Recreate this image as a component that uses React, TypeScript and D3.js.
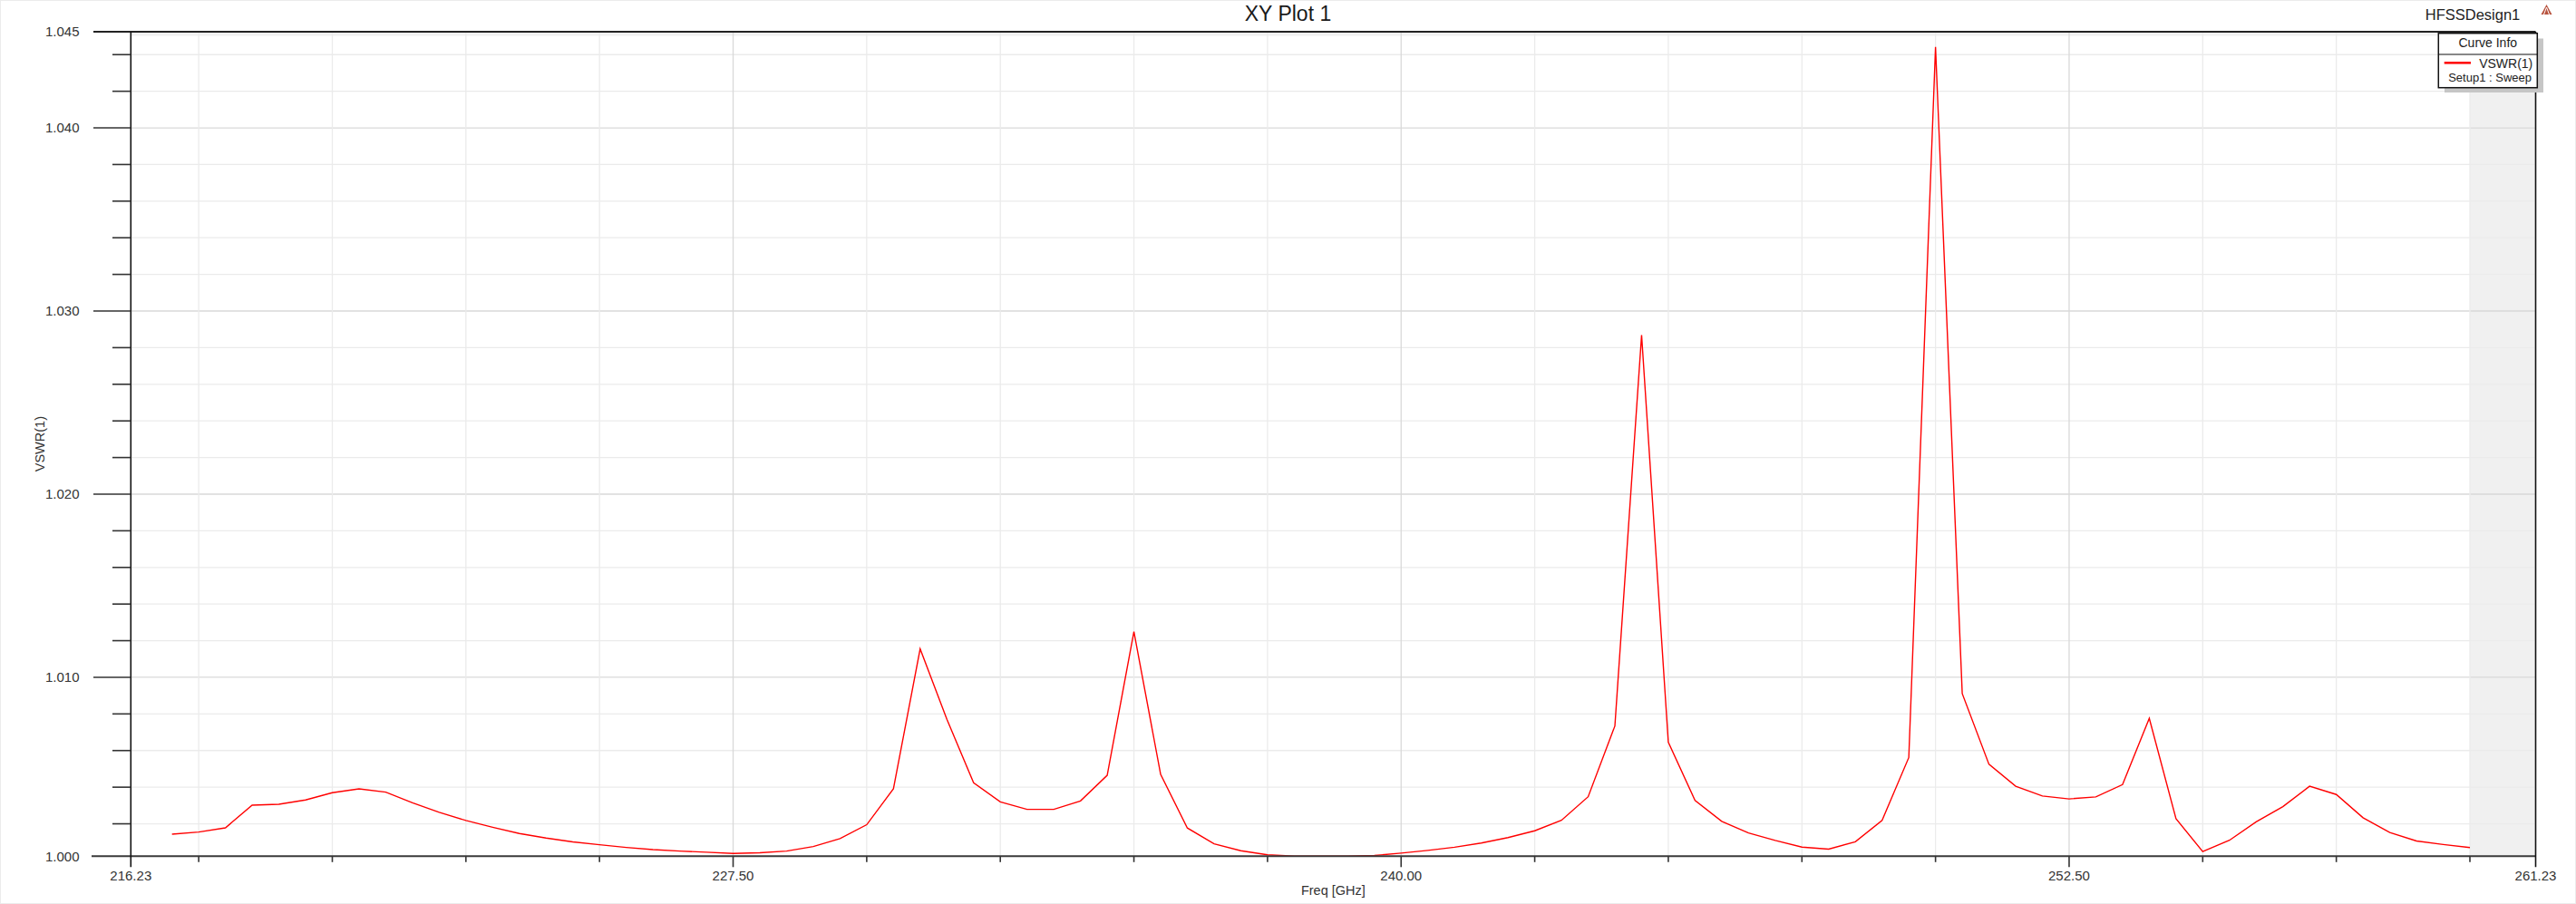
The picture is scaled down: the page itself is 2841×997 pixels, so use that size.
import React from 'react';
import * as d3 from 'd3';

const FREQ_GHZ = [
  217.0, 217.5, 218.0, 218.5, 219.0, 219.5, 220.0, 220.5, 221.0, 221.5,
  222.0, 222.5, 223.0, 223.5, 224.0, 224.5, 225.0, 225.5, 226.0, 226.5,
  227.0, 227.5, 228.0, 228.5, 229.0, 229.5, 230.0, 230.5, 231.0, 231.5,
  232.0, 232.5, 233.0, 233.5, 234.0, 234.5, 235.0, 235.5, 236.0, 236.5,
  237.0, 237.5, 238.0, 238.5, 239.0, 239.5, 240.0, 240.5, 241.0, 241.5,
  242.0, 242.5, 243.0, 243.5, 244.0, 244.5, 245.0, 245.5, 246.0, 246.5,
  247.0, 247.5, 248.0, 248.5, 249.0, 249.5, 250.0, 250.5, 251.0, 251.5,
  252.0, 252.5, 253.0, 253.5, 254.0, 254.5, 255.0, 255.5, 256.0, 256.5,
  257.0, 257.5, 258.0, 258.5, 259.0, 259.5, 260.0,
];

const VSWR_1 = [
  1.00143, 1.00155, 1.00178, 1.00302, 1.00307, 1.0033, 1.0037, 1.00391, 1.00373, 1.00315,
  1.00263, 1.00218, 1.00181, 1.00147, 1.00122, 1.00101, 1.00086, 1.00071, 1.00059, 1.00051,
  1.00045, 1.00038, 1.00042, 1.00051, 1.00076, 1.00119, 1.00195, 1.00391, 1.01155, 1.00771,
  1.00424, 1.0032, 1.00279, 1.00279, 1.00325, 1.00465, 1.01249, 1.0047, 1.00177, 1.00091,
  1.00053, 1.00031, 1.00024, 1.00023, 1.00023, 1.00027, 1.0004, 1.00055, 1.00072, 1.00095,
  1.00125, 1.00162, 1.00219, 1.00348, 1.00734, 1.02869, 1.00646, 1.00327, 1.00213, 1.0015,
  1.00109, 1.00073, 1.00062, 1.00102, 1.00219, 1.00562, 1.04442, 1.00911, 1.00525, 1.00405,
  1.00352, 1.00336, 1.00347, 1.00414, 1.00776, 1.00228, 1.00048, 1.0011, 1.00211, 1.00294,
  1.00405, 1.0036, 1.00233, 1.00153, 1.00106, 1.00087, 1.0007,
];

const X_DOMAIN = [216.23, 261.23];
const Y_DOMAIN = [1.00023, 1.04525];
const X_LABEL_TICKS = [216.23, 227.5, 240.0, 252.5, 261.23];
const X_MAJOR_TICKS = [227.5, 240.0, 252.5];
const X_MINOR_TICKS = [217.5, 220, 222.5, 225, 230, 232.5, 235, 237.5, 242.5, 245, 247.5, 250, 255, 257.5, 260];
const Y_MAJOR_TICKS = [1.01, 1.02, 1.03, 1.04];
const Y_MINOR_TICKS = [
  1.002, 1.004, 1.006, 1.008, 1.012, 1.014, 1.016, 1.018, 1.022, 1.024, 1.026, 1.028,
  1.032, 1.034, 1.036, 1.038, 1.042, 1.044,
];
const SHADED_FROM = 260.0;

const W = 2841;
const H = 997;
const L = 144.3;
const R = 2796.5;
const T = 35;
const B = 944.3;
const FONT = '"Liberation Sans", Arial, Helvetica, sans-serif';

export default function App() {
  const x = d3.scaleLinear().domain(X_DOMAIN).range([L, R]);
  const y = d3.scaleLinear().domain(Y_DOMAIN).range([B, T]);
  const line = d3
    .line<number>()
    .x((_, i) => x(FREQ_GHZ[i]))
    .y((d) => y(d));
  const path = line(VSWR_1) || '';
  const fmtY = d3.format('.3f');
  const fmtX = d3.format('.2f');
  const yLabelTicks = [Y_DOMAIN[0], ...Y_MAJOR_TICKS, Y_DOMAIN[1]];

  return (
    <svg
      width={W}
      height={H}
      style={{ position: 'absolute', left: 0, top: 0, display: 'block', background: '#fff' }}
      fontFamily={FONT}
    >
      <rect x={0.5} y={0.5} width={W - 1} height={H - 1} fill="#fff" stroke="#ebebeb" />
      <defs>
        <clipPath id="plotclip">
          <rect x={L} y={T} width={R - L} height={B - T} />
        </clipPath>
      </defs>

      {/* shaded regions */}
      <rect x={x(SHADED_FROM)} y={T} width={R - x(SHADED_FROM)} height={B - T} fill="#f0f0f0" />
      <rect x={L} y={T} width={R - L} height={4.5} fill="#f0f0f0" />

      {/* grid */}
      {Y_MINOR_TICKS.map((v) => (
        <line key={'gy' + v} x1={L} x2={R} y1={y(v)} y2={y(v)} stroke="#ebebeb" strokeWidth={1.3} />
      ))}
      {Y_MAJOR_TICKS.map((v) => (
        <line key={'gY' + v} x1={L} x2={R} y1={y(v)} y2={y(v)} stroke="#d9d9d9" strokeWidth={1.3} />
      ))}
      {X_MINOR_TICKS.map((v) => (
        <line key={'gx' + v} x1={x(v)} x2={x(v)} y1={T} y2={B} stroke="#ebebeb" strokeWidth={1.3} />
      ))}
      {X_MAJOR_TICKS.map((v) => (
        <line key={'gX' + v} x1={x(v)} x2={x(v)} y1={T} y2={B} stroke="#d9d9d9" strokeWidth={1.3} />
      ))}

      {/* curve */}
      <path d={path} fill="none" stroke="#ff0000" strokeWidth={1.4} clipPath="url(#plotclip)" />

      {/* axes */}
      <line x1={103} x2={R} y1={T} y2={T} stroke="#222" strokeWidth={2} />
      <line x1={101} x2={R} y1={B} y2={B} stroke="#3a3a3a" strokeWidth={2} />
      <line x1={L} x2={L} y1={T} y2={B + 12} stroke="#111" strokeWidth={1.6} />
      <line x1={R} x2={R} y1={T} y2={B + 12} stroke="#111" strokeWidth={1.6} />

      {/* y ticks */}
      {Y_MAJOR_TICKS.map((v) => (
        <line key={'ty' + v} x1={103} x2={L} y1={y(v)} y2={y(v)} stroke="#333" strokeWidth={1.6} />
      ))}
      {Y_MINOR_TICKS.map((v) => (
        <line key={'tym' + v} x1={124} x2={L} y1={y(v)} y2={y(v)} stroke="#333" strokeWidth={1.6} />
      ))}
      {yLabelTicks.map((v) => (
        <text
          key={'ly' + v}
          x={87.5}
          y={y(v)}
          dy="0.35em"
          textAnchor="end"
          fontSize={15}
          fill="#333"
        >
          {fmtY(v)}
        </text>
      ))}

      {/* x ticks */}
      {X_MAJOR_TICKS.map((v) => (
        <line key={'tx' + v} x1={x(v)} x2={x(v)} y1={B} y2={B + 12} stroke="#333" strokeWidth={1.6} />
      ))}
      {X_MINOR_TICKS.map((v) => (
        <line key={'txm' + v} x1={x(v)} x2={x(v)} y1={B} y2={B + 6.5} stroke="#333" strokeWidth={1.6} />
      ))}
      {X_LABEL_TICKS.map((v) => (
        <text key={'lx' + v} x={x(v)} y={970.5} textAnchor="middle" fontSize={15} fill="#333">
          {fmtX(v)}
        </text>
      ))}

      {/* axis titles */}
      <text x={(L + R) / 2} y={986.5} textAnchor="middle" fontSize={14.5} fill="#333">
        Freq [GHz]
      </text>
      <text
        transform={`translate(48.5, ${(T + B) / 2}) rotate(-90)`}
        textAnchor="middle"
        fontSize={14.5}
        fill="#333"
      >
        VSWR(1)
      </text>

      {/* title */}
      <text x={W / 2} y={23.3} textAnchor="middle" fontSize={23} fill="#1a1a1a">
        XY Plot 1
      </text>
      <text x={2779.3} y={21.7} textAnchor="end" fontSize={16.5} fill="#222">
        HFSSDesign1
      </text>
      <g transform="translate(2808.5, 5)">
        <polygon points="0,0 6,11 -6,11" fill="#b8543f" />
        <line x1={0} y1={3} x2={-3} y2={11} stroke="#fff" strokeWidth={1} />
        <line x1={0} y1={3} x2={3} y2={11} stroke="#fff" strokeWidth={1} />
      </g>

      {/* legend */}
      <rect x={2696} y={42.5} width={109} height={59.5} fill="#c6c6c6" />
      <rect x={2689.3} y={36.7} width={109} height={60} fill="#fff" stroke="#111" strokeWidth={1.5} />
      <line x1={2689.3} x2={2798.3} y1={60} y2={60} stroke="#111" strokeWidth={1} />
      <text x={2743.8} y={52.3} textAnchor="middle" fontSize={14} fill="#222">
        Curve Info
      </text>
      <line x1={2695.7} x2={2725} y1={69.3} y2={69.3} stroke="#ff0000" strokeWidth={2.5} />
      <text x={2793.3} y={75} textAnchor="end" fontSize={14} fill="#222">
        VSWR(1)
      </text>
      <text x={2792} y={90} textAnchor="end" fontSize={13} fill="#222">
        Setup1 : Sweep
      </text>
    </svg>
  );
}
